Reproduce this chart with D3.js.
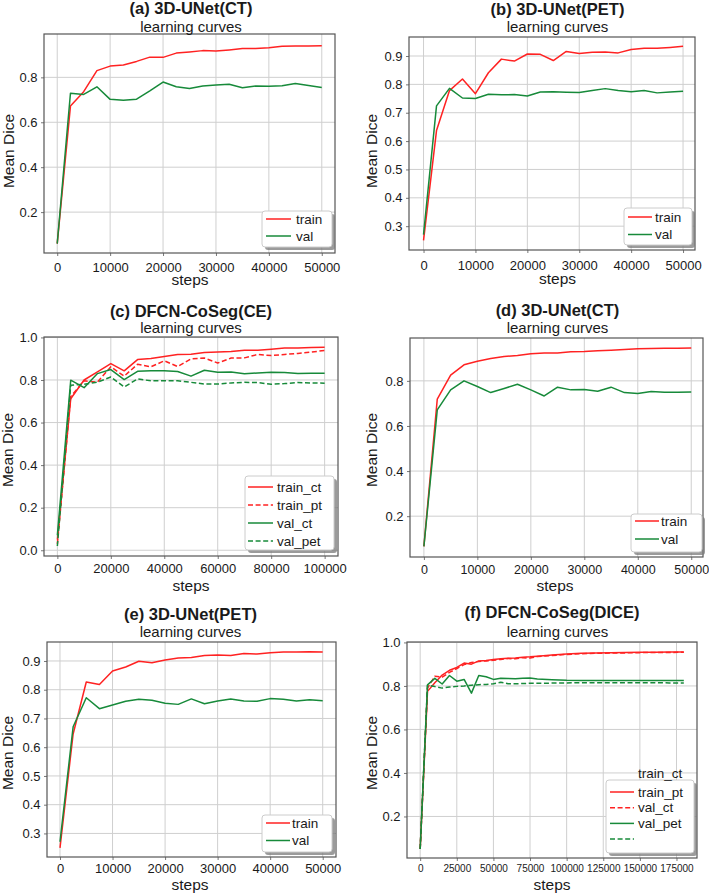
<!DOCTYPE html>
<html><head><meta charset="utf-8">
<script src="https://cdn.jsdelivr.net/npm/d3@7"></script>
<style>
body{margin:0;background:#fff}
svg{display:block}
text{font-family:"Liberation Sans",Arial,Helvetica,sans-serif;fill:#1a1a1a}
</style>
</head><body><div id="chart"></div>
<script>
// ---------------- data ----------------
const steps50k = [0,2500,5000,7500,10000,12500,15000,17500,20000,22500,25000,27500,30000,32500,35000,37500,40000,42500,45000,47500,50000];
const steps100k = [0,5000,10000,15000,20000,25000,30000,35000,40000,45000,50000,55000,60000,65000,70000,75000,80000,85000,90000,95000,100000];
const stepsF = [0,5000,10000,15000,20000,25000,30000,35000,40000,45000,50000,55000,60000,65000,70000,75000,80000,90000,100000,110000,120000,130000,140000,150000,160000,170000,180000];

const aTrain = [0.06,0.672,0.736,0.83,0.85,0.855,0.871,0.89,0.889,0.908,0.913,0.919,0.917,0.922,0.928,0.928,0.932,0.938,0.94,0.94,0.941];
const aVal   = [0.06,0.729,0.724,0.758,0.702,0.698,0.703,0.74,0.779,0.758,0.75,0.761,0.766,0.769,0.754,0.761,0.76,0.763,0.773,0.764,0.755];

const bTrain = [0.25,0.637,0.778,0.819,0.767,0.841,0.889,0.882,0.907,0.906,0.884,0.916,0.909,0.913,0.914,0.911,0.923,0.927,0.927,0.93,0.934];
const bVal   = [0.27,0.724,0.786,0.752,0.75,0.765,0.763,0.764,0.759,0.773,0.774,0.772,0.771,0.778,0.785,0.778,0.774,0.778,0.77,0.773,0.776];

const cTrainCt = [0.05,0.712,0.80,0.838,0.877,0.843,0.896,0.901,0.91,0.92,0.921,0.929,0.931,0.934,0.94,0.94,0.945,0.95,0.95,0.953,0.954];
const cTrainPt = [0.03,0.723,0.796,0.79,0.862,0.818,0.874,0.862,0.89,0.863,0.899,0.903,0.88,0.903,0.904,0.92,0.915,0.92,0.925,0.931,0.939];
const cValCt   = [0.07,0.799,0.764,0.83,0.849,0.802,0.841,0.843,0.844,0.84,0.818,0.846,0.836,0.838,0.829,0.833,0.836,0.835,0.83,0.832,0.832];
const cValPet  = [0.02,0.775,0.78,0.79,0.814,0.767,0.805,0.796,0.796,0.796,0.789,0.781,0.781,0.786,0.789,0.788,0.78,0.783,0.788,0.786,0.785];

const dTrain = [0.066,0.719,0.825,0.871,0.887,0.899,0.908,0.912,0.92,0.923,0.924,0.929,0.93,0.934,0.936,0.939,0.942,0.943,0.945,0.945,0.946];
const dVal   = [0.066,0.671,0.76,0.8,0.775,0.748,0.766,0.785,0.76,0.733,0.772,0.76,0.762,0.754,0.772,0.748,0.744,0.753,0.75,0.75,0.751];

const eTrain = [0.25,0.646,0.827,0.818,0.865,0.879,0.899,0.894,0.903,0.91,0.912,0.919,0.921,0.919,0.926,0.924,0.929,0.931,0.931,0.932,0.931];
const eVal   = [0.271,0.671,0.772,0.734,0.747,0.76,0.767,0.763,0.753,0.749,0.768,0.751,0.761,0.768,0.761,0.76,0.769,0.767,0.761,0.765,0.762];

const fTrainCt = [0.05,0.775,0.815,0.85,0.872,0.885,0.905,0.9,0.915,0.917,0.921,0.925,0.927,0.929,0.932,0.934,0.937,0.942,0.947,0.95,0.952,0.953,0.954,0.955,0.955,0.956,0.956];
const fTrainPt = [0.05,0.79,0.845,0.84,0.862,0.88,0.898,0.908,0.912,0.915,0.918,0.922,0.926,0.925,0.93,0.928,0.935,0.94,0.945,0.948,0.95,0.951,0.952,0.953,0.954,0.954,0.955];
const fValCt   = [0.05,0.805,0.835,0.809,0.848,0.822,0.83,0.767,0.848,0.842,0.83,0.835,0.834,0.833,0.835,0.836,0.832,0.829,0.826,0.825,0.825,0.825,0.825,0.825,0.825,0.825,0.825];
const fValPet  = [0.05,0.803,0.797,0.79,0.795,0.798,0.8,0.803,0.806,0.807,0.81,0.817,0.81,0.81,0.811,0.812,0.812,0.813,0.814,0.815,0.815,0.815,0.815,0.815,0.815,0.814,0.814];

const xTicks50k  = [0,10000,20000,30000,40000,50000];
const xTicks100k = [0,20000,40000,60000,80000,100000];
const xTicksF    = [0,25000,50000,75000,100000,125000,150000,175000];
const yTicks2_8  = [0.2,0.4,0.6,0.8];
const yTicks3_9  = [0.3,0.4,0.5,0.6,0.7,0.8,0.9];
const yTicks0_10 = [0.0,0.2,0.4,0.6,0.8,1.0];
const yTicks2_10 = [0.2,0.4,0.6,0.8,1.0];

const titles = ["(a) 3D-UNet(CT)","(b) 3D-UNet(PET)","(c) DFCN-CoSeg(CE)","(d) 3D-UNet(CT)","(e) 3D-UNet(PET)","(f) DFCN-CoSeg(DICE)"];
const subtitle = "learning curves";
const xLabel = "steps", yLabel = "Mean Dice";

// ---------------- styles / layout ----------------
const RED = "#ff2222", GREEN = "#178a3a";
const DASH = "5,2.6";

const panels = [
 {title:titles[0], tx:191, ty:13.5, sx:191, sy:31.5, f:{l:44,r:335,t:34,b:253}, xd:[-2500,52500], yd:[0.018,0.993],
  xt:xTicks50k, yt:yTicks2_8, xfs:13, xpad:7, ylab:[8,151], xlab:[190,285],
  series:[{x:steps50k,y:aTrain,c:RED,d:false,lab:"train"},{x:steps50k,y:aVal,c:GREEN,d:false,lab:"val"}],
  leg:{l:262,t:211,w:70,h:36,r0:219,dy:17,lx1:266,lx2:291,tx:296}},
 {title:titles[1], tx:557.5, ty:14.5, sx:557.5, sy:31.5, f:{l:409,r:695,t:37,b:250}, xd:[-2800,52300], yd:[0.216,0.967],
  xt:xTicks50k, yt:yTicks3_9, xfs:13, xpad:8, ylab:[371,151], xlab:[557.5,283.5],
  series:[{x:steps50k,y:bTrain,c:RED,d:false,lab:"train"},{x:steps50k,y:bVal,c:GREEN,d:false,lab:"val"}],
  leg:{l:624,t:208,w:68,h:37,r0:217,dy:17.5,lx1:628,lx2:652,tx:655}},
 {title:titles[2], tx:191, ty:316.5, sx:191, sy:333, f:{l:44,r:338,t:337,b:556}, xd:[-5000,105000], yd:[-0.027,1.002],
  xt:xTicks100k, yt:yTicks0_10, xfs:13, xpad:5, ylab:[7,450], xlab:[191,591],
  series:[{x:steps100k,y:cTrainCt,c:RED,d:false,lab:"train_ct"},{x:steps100k,y:cTrainPt,c:RED,d:true,lab:"train_pt"},
          {x:steps100k,y:cValCt,c:GREEN,d:false,lab:"val_ct"},{x:steps100k,y:cValPet,c:GREEN,d:true,lab:"val_pet"}],
  leg:{l:245,t:476,w:89,h:74,r0:487,dy:18,lx1:248,lx2:273,tx:277}},
 {title:titles[3], tx:557.5, ty:316, sx:557.5, sy:333, f:{l:410,r:703,t:338,b:557}, xd:[-2600,52200], yd:[0.019,0.99],
  xt:xTicks50k, yt:yTicks2_8, xfs:12.5, xpad:5, ylab:[371,450], xlab:[555,591],
  series:[{x:steps50k,y:dTrain,c:RED,d:false,lab:"train"},{x:steps50k,y:dVal,c:GREEN,d:false,lab:"val"}],
  leg:{l:631,t:514,w:71,h:38,r0:521,dy:18,lx1:635,lx2:659,tx:661}},
 {title:titles[4], tx:190.5, ty:620, sx:190.5, sy:637, f:{l:47,r:336,t:642,b:857}, xd:[-2474,52530], yd:[0.218,0.966],
  xt:xTicks50k, yt:yTicks3_9, xfs:13, xpad:4, ylab:[7,753], xlab:[190,890],
  series:[{x:steps50k,y:eTrain,c:RED,d:false,lab:"train"},{x:steps50k,y:eVal,c:GREEN,d:false,lab:"val"}],
  leg:{l:262,t:815,w:70,h:37,r0:823,dy:17.5,lx1:266,lx2:290,tx:292}},
 {title:titles[5], tx:552, ty:618, sx:557.5, sy:636.5, f:{l:407,r:697,t:642,b:858}, xd:[-9000,189000], yd:[0.009,1.002],
  xt:xTicksF, yt:yTicks2_10, xfs:10, xpad:4, ylab:[371,753], xlab:[552,890],
  series:[{x:stepsF,y:fTrainCt,c:RED,d:false,lab:"train_pt"},{x:stepsF,y:fTrainPt,c:RED,d:true,lab:"val_ct"},
          {x:stepsF,y:fValCt,c:GREEN,d:false,lab:"val_pet"},{x:stepsF,y:fValPet,c:GREEN,d:true,lab:""}],
  leg:{l:606,t:780,w:88,h:73,r0:792,dy:15.7,lx1:610,lx2:634,tx:638,title:"train_ct",tty:773}}
];

// ---------------- draw ----------------
const W = 709, H = 894;
const svg = d3.select("#chart").append("svg").attr("width",W).attr("height",H);
svg.append("rect").attr("width",W).attr("height",H).attr("fill","#fff");

const fmtY = d3.format(".1f"), fmtX = d3.format("d");

panels.forEach(p => {
  const f = p.f;
  const x = d3.scaleLinear().domain(p.xd).range([f.l,f.r]);
  const y = d3.scaleLinear().domain(p.yd).range([f.b,f.t]);
  const g = svg.append("g");

  // grid
  g.append("g").selectAll("line").data(p.xt).join("line")
    .attr("x1",d=>x(d)).attr("x2",d=>x(d)).attr("y1",f.t).attr("y2",f.b)
    .attr("stroke","#cfcfcf").attr("stroke-width",1);
  g.append("g").selectAll("line").data(p.yt).join("line")
    .attr("y1",d=>y(d)).attr("y2",d=>y(d)).attr("x1",f.l).attr("x2",f.r)
    .attr("stroke","#cfcfcf").attr("stroke-width",1);

  // axes
  const ax = g.append("g").attr("transform",`translate(0,${f.b})`)
    .call(d3.axisBottom(x).tickValues(p.xt).tickFormat(fmtX).tickSize(3).tickPadding(p.xpad));
  ax.select(".domain").remove();
  ax.selectAll("line").attr("stroke","#777");
  ax.selectAll("text").attr("font-size",p.xfs).attr("fill","#1a1a1a")
    .attr("font-family",'"Liberation Sans",Arial,sans-serif');
  const ay = g.append("g").attr("transform",`translate(${f.l},0)`)
    .call(d3.axisLeft(y).tickValues(p.yt).tickFormat(fmtY).tickSize(3).tickPadding(3.5));
  ay.select(".domain").remove();
  ay.selectAll("line").attr("stroke","#777");
  ay.selectAll("text").attr("font-size",13).attr("fill","#1a1a1a")
    .attr("font-family",'"Liberation Sans",Arial,sans-serif');

  // lines
  const clipId = "clip" + Math.round(f.l) + "_" + Math.round(f.t);
  svg.append("clipPath").attr("id",clipId).append("rect")
    .attr("x",f.l).attr("y",f.t).attr("width",f.r-f.l).attr("height",f.b-f.t);
  const lg = g.append("g").attr("clip-path",`url(#${clipId})`);
  p.series.forEach(s => {
    const line = d3.line().x((d,i)=>x(s.x[i])).y(d=>y(d));
    lg.append("path").datum(s.y).attr("d",line)
      .attr("fill","none").attr("stroke",s.c).attr("stroke-width",1.5)
      .attr("stroke-linejoin","round")
      .attr("stroke-dasharray",s.d?DASH:null);
  });

  // frame
  g.append("rect").attr("x",f.l).attr("y",f.t).attr("width",f.r-f.l).attr("height",f.b-f.t)
    .attr("fill","none").attr("stroke","#555").attr("stroke-width",1.2);

  // titles
  g.append("text").attr("x",p.tx).attr("y",p.ty).attr("text-anchor","middle")
    .attr("font-size",16.5).attr("font-weight","bold").text(p.title);
  g.append("text").attr("x",p.sx).attr("y",p.sy).attr("text-anchor","middle")
    .attr("font-size",15).text(subtitle);
  g.append("text").attr("x",p.xlab[0]).attr("y",p.xlab[1]).attr("text-anchor","middle")
    .attr("font-size",15.5).text(xLabel);
  g.append("text").attr("transform",`translate(${p.ylab[0]},${p.ylab[1]}) rotate(-90)`)
    .attr("text-anchor","middle").attr("dominant-baseline","central")
    .attr("font-size",15.5).text(yLabel);

  // legend
  const L = p.leg;
  g.append("rect").attr("x",L.l+3).attr("y",L.t+3).attr("width",L.w).attr("height",L.h)
    .attr("rx",3).attr("fill","#7a7a7a").attr("opacity",0.75);
  g.append("rect").attr("x",L.l).attr("y",L.t).attr("width",L.w).attr("height",L.h)
    .attr("rx",3).attr("fill","#fff").attr("stroke","#cccccc").attr("stroke-width",1);
  if (L.title) {
    g.append("text").attr("x",L.tx).attr("y",L.tty).attr("dominant-baseline","central")
      .attr("font-size",13.5).text(L.title);
  }
  p.series.forEach((s,i) => {
    const yy = L.r0 + i*L.dy;
    g.append("line").attr("x1",L.lx1).attr("x2",L.lx2).attr("y1",yy).attr("y2",yy)
      .attr("stroke",s.c).attr("stroke-width",1.5).attr("stroke-dasharray",s.d?DASH:null);
    g.append("text").attr("x",L.tx).attr("y",yy).attr("dominant-baseline","central")
      .attr("font-size",13.5).text(s.lab);
  });
});
</script>
</body></html>
